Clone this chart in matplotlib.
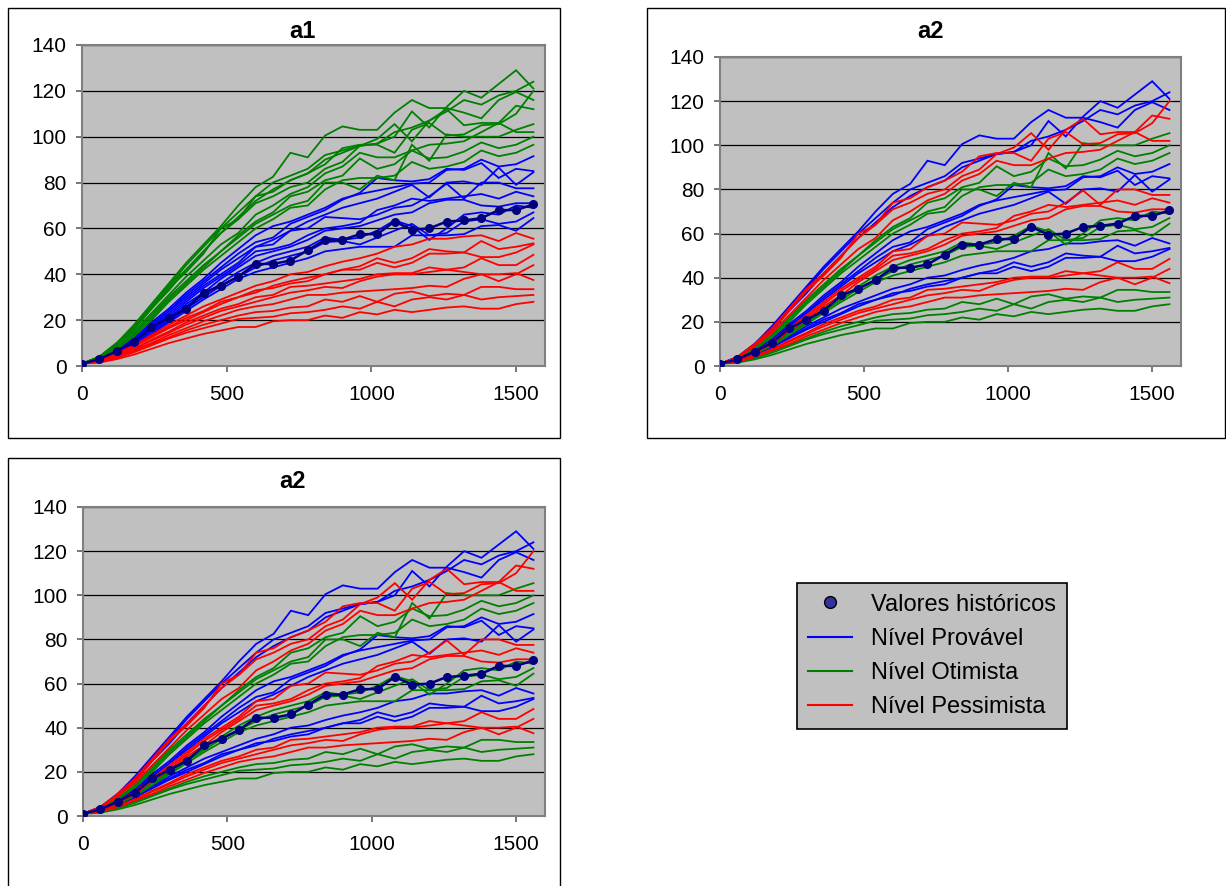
import matplotlib.pyplot as plt
from matplotlib.lines import Line2D
from matplotlib.patches import Rectangle

plt.rcParams["font.family"] = ["Liberation Sans", "DejaVu Sans"]

X = [0, 60, 120, 180, 240, 300, 360, 420, 480, 540, 600, 660, 720, 780,
     840, 900, 960, 1020, 1080, 1140, 1200, 1260, 1320, 1380, 1440, 1500, 1560]

HIST = [1, 3, 6.5, 10.5, 17, 21, 25, 32, 35, 39, 44.5, 44.5, 46, 50.5, 55,
        55, 57.5, 57.5, 63, 59.5, 60, 63, 63.5, 64.5, 68, 68, 70.5]

# upper band
HIGH_B = [
    [1, 4, 10, 18, 27, 36, 45, 53, 61, 70, 78, 82.5, 93, 91, 100.5, 104.5, 103, 103, 110.5, 116, 112.5, 112.5, 110.5, 108, 116, 119.5, 116],
    [1, 4, 10, 17, 26, 35, 44, 52, 60, 67, 74, 80, 83, 86, 92, 94, 96, 97, 100, 111, 104, 113, 120, 117, 123, 129, 121],
    [1, 4, 9, 16, 25, 33, 42, 50, 58, 65, 72, 77, 81, 84, 90, 93, 96, 97, 102, 104, 107, 111, 116, 114, 118, 120, 124],
]
HIGH_R = [
    [1, 4, 10, 17, 26, 35, 42, 50, 58, 64, 71, 74, 78, 80, 86, 89, 96, 99, 105.5, 98, 107, 112, 105, 106, 106, 113.5, 112],
    [1, 4, 9, 16, 25, 34, 41, 49, 60, 64, 74, 76, 81, 84, 88, 95, 96.5, 96.5, 93, 103, 106, 100.5, 101, 105, 105.5, 110, 120],
    [1, 3.5, 9, 15, 23, 31, 39, 46, 53, 58, 66, 70, 75, 78, 84, 87, 93, 91, 91, 94, 96.5, 97, 98, 102, 106, 102, 102],
]
HIGH_G = [
    [1, 3.5, 8, 14, 22, 30, 37, 44, 50, 56, 62, 66, 70, 72, 80, 80, 77, 83, 81, 96.5, 89.5, 101, 100, 100, 100, 103, 105.5],
    [1, 3.5, 8, 14, 21, 29, 36, 43, 50, 57, 63, 67, 74, 76, 81, 83, 90.5, 86, 88, 94, 90.5, 91, 93.5, 97.5, 95, 96.5, 100],
    [1, 3, 7.5, 13, 20, 28, 35, 42, 48, 54, 60, 64, 69, 70, 77, 81, 82, 82, 83, 89, 86, 87, 89, 94, 91.5, 93, 96.5],
]

# middle band
MID_B = [
    [1, 3, 7, 12, 19, 25, 32, 38, 45, 51, 57, 61, 63, 66, 69, 73, 75, 76.5, 78, 79.5, 80, 85.5, 86, 90, 87, 88, 91.5],
    [1, 3, 7, 12, 18, 24, 31, 37, 43, 49, 54, 56, 62, 65, 68, 72.5, 75.5, 82, 81, 80.5, 81.5, 86, 85.5, 88.5, 82, 86, 85],
    [1, 3, 6.5, 11.5, 18, 24, 30, 36, 42, 47, 52, 55, 59, 63, 66, 69, 71, 73, 76, 79, 73.5, 80, 80.5, 79, 86.5, 79, 84.5],
]
MID_R = [
    [1, 3, 6.5, 11, 17, 23, 29, 35, 40, 45, 52, 53, 59, 60, 65, 64.5, 64, 66, 69, 70, 74, 79.5, 73, 80, 80, 77.5, 77.5],
    [1, 3, 6.5, 11, 17, 22, 28, 34, 39, 44, 50, 51, 53, 57, 60, 61, 62.5, 68, 70, 73, 72, 73, 74, 75, 73, 76, 74],
    [1, 2.5, 6, 10, 16, 21, 27, 32, 38, 43, 48, 50, 52, 55, 59, 60, 61, 63.5, 66, 67, 71, 72.5, 72.5, 70, 69.5, 71, 71],
]
MID_G = [
    [1, 2.5, 6, 10, 15.5, 20, 26, 31, 36, 41, 45, 48, 50, 52, 56, 55, 56, 59, 63.5, 61, 55, 60, 66, 67, 66, 70, 69],
    [1, 2.5, 5.5, 9.5, 15, 19.5, 25, 30, 35, 39, 43, 46, 48, 50, 54, 54.5, 53, 56, 59, 62, 57, 58, 63, 64, 62, 63, 67],
    [1, 2.5, 5.5, 9, 14, 19, 24, 29, 33.5, 38, 41, 43, 45, 47, 50, 51, 52, 52, 52, 57, 57, 57, 57.5, 61, 61.5, 59, 64.5],
]

# lower band
LOW_B = [
    [1, 2.5, 5.5, 9, 13.5, 18, 22, 26, 29, 32, 35, 37, 40, 41, 43.5, 45.5, 47, 49, 52, 53, 55.5, 55.5, 56.5, 57, 54.5, 58, 55.5],
    [1, 2.5, 5, 8.5, 13, 17, 21, 24, 28, 30, 33, 34, 36, 37, 40, 42, 42, 45, 43, 45, 49, 49, 49.5, 54.5, 51, 52, 53.5],
    [1, 2.5, 5, 8.5, 12.5, 16.5, 20, 23.5, 27, 30, 32, 35, 37, 38.5, 40, 42, 43.5, 47, 45, 47, 51, 50, 49.5, 47.5, 47.5, 49.5, 53],
]
LOW_R = [
    [1, 2, 4.5, 7.5, 11.5, 15, 19, 22, 25, 27, 30, 31, 34.5, 35, 36, 37, 38, 40, 40.5, 40.5, 43, 42, 43, 47, 44, 44, 48.5],
    [1, 2, 4.5, 7.5, 11, 14.5, 18, 21, 24, 26, 28, 30, 32, 33, 34.5, 34, 37, 39, 40, 40, 41, 42, 41, 40, 40, 40.5, 37.5],
    [1, 2, 4, 7, 10, 13.5, 16.5, 19.5, 22, 24.5, 26, 27, 29, 31, 31, 32, 32.5, 33, 33.5, 34, 35, 34.5, 38, 40, 37, 40, 44],
]
LOW_G = [
    [1, 2, 4, 6.5, 9.5, 12.5, 15.5, 18, 20, 22, 23.5, 24, 25.5, 26, 29, 28, 30.5, 28, 31.5, 32.5, 30.5, 31.5, 31, 34.5, 34.5, 33.5, 33.5],
    [1, 2, 3.5, 6, 9, 12, 14.5, 16.5, 18.5, 20.5, 21, 21.5, 23, 23.5, 24.5, 26, 25, 28, 26, 29, 30, 29, 31, 29, 30, 30.5, 31],
    [1, 1.5, 3, 5, 7.5, 10, 12, 14, 15.5, 17, 17, 19.5, 20, 20, 22, 21, 23.5, 22.5, 24.5, 23.5, 24.5, 25.5, 26, 25, 25, 27, 28],
]

BLUE, GREEN, RED, NAVY = "#0000FF", "#008000", "#FF0000", "#000080"

W, H = 1226, 886
fig = plt.figure(figsize=(W / 100, H / 100), dpi=100)


def px_box(left, top, right, bottom):
    return [left / W, 1 - bottom / H, (right - left) / W, (bottom - top) / H]


def draw_panel(rect, title, title_xy, series):
    ax = fig.add_axes(rect)
    ax.set_facecolor("#C0C0C0")
    for curves, colour in series:
        for c in curves:
            ax.plot(X, c, color=colour, lw=1.3, solid_joinstyle="miter")
    ax.plot(X, HIST, color=NAVY, lw=1.8, marker="o", ms=5.5,
            mfc=NAVY, mec=NAVY, zorder=5)

    ax.set_xlim(0, 1600)
    ax.set_ylim(0, 140)
    ax.set_xticks([0, 500, 1000, 1500])
    ax.set_yticks(range(0, 141, 20))
    ax.yaxis.grid(True, color="black", lw=0.9)
    ax.set_axisbelow(True)
    for s in ax.spines.values():
        s.set_color("#808080")
        s.set_linewidth(1.5)
    ax.tick_params(axis="both", labelsize=15, color="#606060",
                   direction="out", length=4, width=1.2)
    ax.tick_params(axis="x", pad=10)
    ax.tick_params(axis="y", pad=7)

    fig.text(title_xy[0] / W, 1 - title_xy[1] / H, title, ha="center",
             va="center", fontsize=17, fontweight="bold")
    return ax


# outer chart frames
for left, top, right, bottom in [(8, 8, 560, 438), (647, 8, 1225, 438),
                                 (8, 458, 560, 900)]:
    fig.add_artist(Rectangle((left / W, 1 - bottom / H), (right - left) / W,
                             (bottom - top) / H, transform=fig.transFigure,
                             fill=False, edgecolor="black", lw=1.0))

# a1: coloured by band
draw_panel(px_box(82, 45, 545, 366), "a1", (302, 31),
           [(MID_B + MID_R + MID_G, BLUE),
            (HIGH_B + HIGH_R + HIGH_G, GREEN),
            (LOW_B + LOW_R + LOW_G, RED)])

# a2 (twice): coloured inside each band
mixed = [(HIGH_B + MID_B + LOW_B, BLUE),
         (HIGH_G + MID_G + LOW_G, GREEN),
         (HIGH_R + MID_R + LOW_R, RED)]
draw_panel(px_box(720, 57, 1181, 366), "a2", (930, 31), mixed)
draw_panel(px_box(83, 507, 545, 816), "a2", (292, 481), mixed)

handles = [
    Line2D([], [], ls="none", marker="o", ms=8.5, mfc="#333399", mec="black", mew=1),
    Line2D([], [], color=BLUE, lw=1.5),
    Line2D([], [], color=GREEN, lw=1.5),
    Line2D([], [], color=RED, lw=1.5),
]
labels = ["Valores históricos", "Nível Provável", "Nível Otimista", "Nível Pessimista"]
leg = fig.legend(handles, labels, loc="upper left",
                 bbox_to_anchor=(797 / W, 1 - 583 / H), bbox_transform=fig.transFigure,
                 frameon=True, fancybox=False, facecolor="#C0C0C0", edgecolor="black",
                 framealpha=1, fontsize=17, handlelength=1.9, handletextpad=0.8,
                 labelspacing=0.52, borderpad=0.45, borderaxespad=0)
leg.get_frame().set_linewidth(1.2)

fig.savefig("out.png", dpi=100)
